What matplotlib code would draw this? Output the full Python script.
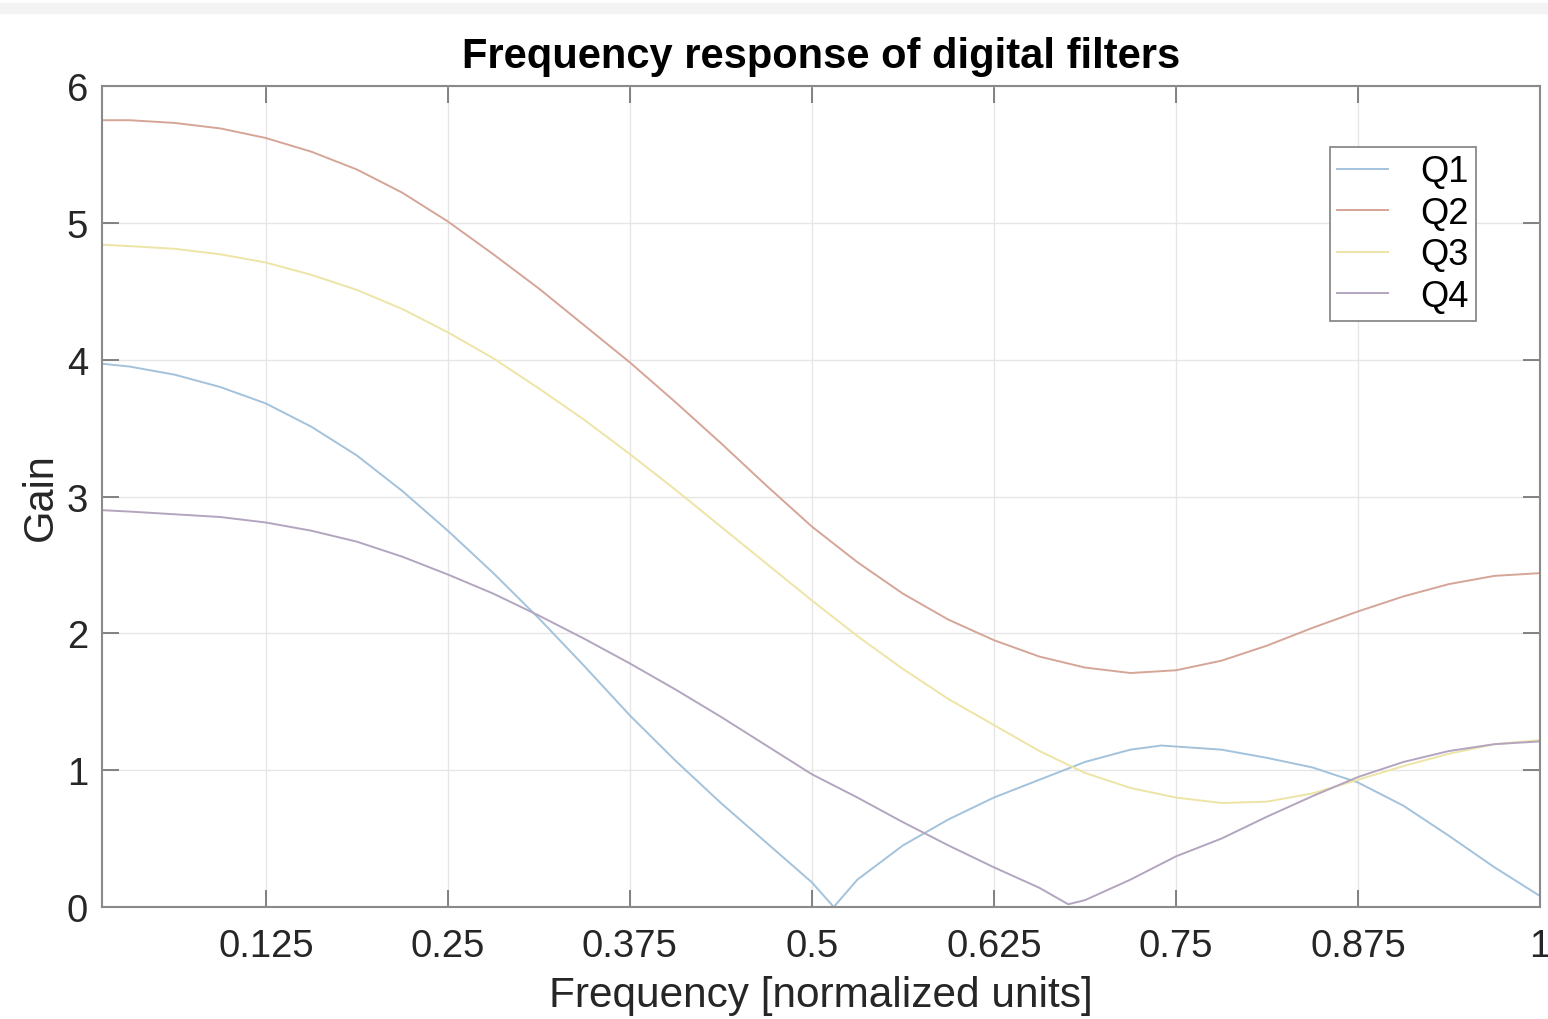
import matplotlib.pyplot as plt
from matplotlib.patches import Rectangle

plt.rcParams['font.family'] = ['Liberation Sans', 'DejaVu Sans']

# frequency samples (normalized units)
freq = [0.0125, 0.03125, 0.0625, 0.09375, 0.125, 0.15625, 0.1875, 0.21875,
        0.25, 0.28125, 0.3125, 0.34375, 0.375, 0.40625, 0.4375, 0.46875,
        0.5, 0.53125, 0.5625, 0.59375, 0.625, 0.65625, 0.6875, 0.71875,
        0.75, 0.78125, 0.8125, 0.84375, 0.875, 0.90625, 0.9375, 0.96875, 1.0]

q2 = [5.75, 5.75, 5.73, 5.69, 5.62, 5.52, 5.39, 5.22,
      5.01, 4.77, 4.52, 4.25, 3.98, 3.69, 3.39, 3.08,
      2.78, 2.52, 2.29, 2.10, 1.95, 1.83, 1.75, 1.71,
      1.73, 1.80, 1.91, 2.04, 2.16, 2.27, 2.36, 2.42, 2.44]

q3 = [4.84, 4.83, 4.81, 4.77, 4.71, 4.62, 4.51, 4.37,
      4.20, 4.01, 3.79, 3.56, 3.31, 3.05, 2.78, 2.51,
      2.24, 1.98, 1.74, 1.52, 1.33, 1.14, 0.98, 0.87,
      0.80, 0.76, 0.77, 0.83, 0.93, 1.03, 1.12, 1.19, 1.22]

# Q1 has a notch near 0.515, so it gets its own x samples
freq_q1 = [0.0125, 0.03125, 0.0625, 0.09375, 0.125, 0.15625, 0.1875, 0.21875,
           0.25, 0.28125, 0.3125, 0.34375, 0.375, 0.40625, 0.4375, 0.46875,
           0.5, 0.515, 0.53125, 0.5625, 0.59375, 0.625, 0.65625, 0.6875,
           0.71875, 0.74, 0.78125, 0.8125, 0.84375, 0.875, 0.90625, 0.9375,
           0.96875, 1.0]
q1 = [3.97, 3.95, 3.89, 3.80, 3.68, 3.51, 3.30, 3.04,
      2.75, 2.44, 2.11, 1.76, 1.40, 1.07, 0.76, 0.47,
      0.18, 0.0, 0.20, 0.45, 0.64, 0.80, 0.93, 1.06,
      1.15, 1.18, 1.15, 1.09, 1.02, 0.91, 0.74, 0.52,
      0.29, 0.08]

freq_q4 = [0.0125, 0.03125, 0.0625, 0.09375, 0.125, 0.15625, 0.1875, 0.21875,
           0.25, 0.28125, 0.3125, 0.34375, 0.375, 0.40625, 0.4375, 0.46875,
           0.5, 0.53125, 0.5625, 0.59375, 0.625, 0.65625, 0.676, 0.6875,
           0.71875, 0.75, 0.78125, 0.8125, 0.84375, 0.875, 0.90625, 0.9375,
           0.96875, 1.0]
q4 = [2.90, 2.89, 2.87, 2.85, 2.81, 2.75, 2.67, 2.56,
      2.43, 2.29, 2.13, 1.96, 1.78, 1.59, 1.39, 1.18,
      0.97, 0.80, 0.62, 0.45, 0.29, 0.14, 0.02, 0.05,
      0.20, 0.37, 0.50, 0.66, 0.81, 0.95, 1.06, 1.14,
      1.19, 1.21]

xticks = [0.125, 0.25, 0.375, 0.5, 0.625, 0.75, 0.875, 1]
xticklabels = ['0.125', '0.25', '0.375', '0.5', '0.625', '0.75', '0.875', '1']
yticks = [0, 1, 2, 3, 4, 5, 6]

fig = plt.figure(figsize=(15.48, 10.2), dpi=100)
fig.patches.append(Rectangle((0.0, 1 - 14 / 1020), 1.0, 10 / 1020,
                             transform=fig.transFigure, color='#f3f3f3', zorder=0))
ax = fig.add_axes([102 / 1548, 112 / 1020, 1438 / 1548, 821 / 1020])

ax.plot(freq_q1, q1, color='#a3c2dc', lw=1.4, label='Q1')
ax.plot(freq, q2, color='#d5a598', lw=1.4, label='Q2')
ax.plot(freq, q3, color='#eee4a6', lw=1.4, label='Q3')
ax.plot(freq_q4, q4, color='#b3a5bf', lw=1.4, label='Q4')

ax.set_xlim(0.0125, 1)
ax.set_ylim(0, 6)
ax.set_xticks(xticks)
ax.set_xticklabels(xticklabels)
ax.set_yticks(yticks)
ax.grid(True, color='#e6e6e6', lw=1)
ax.set_axisbelow(True)
ax.tick_params(direction='in', length=12, width=1.2, color='#6e6e6e',
               top=True, right=True, labelsize=27.5, labelcolor='#262626')
ax.tick_params(axis='x', pad=15)
ax.tick_params(axis='y', pad=10)
for s in ax.spines.values():
    s.set_color('#8a8a8a')
    s.set_linewidth(1.5)

ax.set_xlabel('Frequency [normalized units]', fontsize=30.5, color='#262626', labelpad=8)
ax.set_ylabel('Gain', fontsize=30, color='#262626', labelpad=4)
ax.set_title('Frequency response of digital filters', fontsize=30,
             fontweight='bold', pad=14)

leg = ax.legend(loc='upper right', bbox_to_anchor=(0.9555, 0.9257), fontsize=26,
                handlelength=1.4, handletextpad=0.9, labelspacing=0.18,
                borderpad=0.2, borderaxespad=0, fancybox=False, framealpha=1)
leg.get_frame().set_edgecolor('#8a8a8a')
leg.get_frame().set_linewidth(1.3)

fig.savefig('out.png', dpi=100)
